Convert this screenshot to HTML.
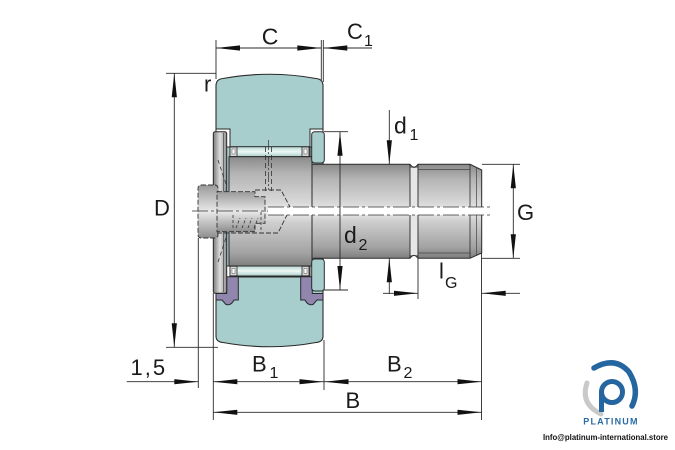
<!DOCTYPE html>
<html><head><meta charset="utf-8"><style>
html,body{margin:0;padding:0;background:#fff;}
svg{display:block;}
text{font-family:"Liberation Sans",Arial,sans-serif;fill:#1a1a1a;}
</style></head><body>
<svg width="675" height="450" viewBox="0 0 675 450" xmlns="http://www.w3.org/2000/svg">
<defs>
<linearGradient id="gv" x1="0" y1="0" x2="0" y2="1">
<stop offset="0" stop-color="#8a8a8a"/><stop offset="0.15" stop-color="#b3b3b3"/><stop offset="0.42" stop-color="#d9d9d9"/><stop offset="0.5" stop-color="#eeeeee"/><stop offset="0.6" stop-color="#cfcfcf"/><stop offset="0.88" stop-color="#a3a3a3"/><stop offset="1" stop-color="#7e7e7e"/>
</linearGradient>
<linearGradient id="gh" x1="0" y1="0" x2="1" y2="0">
<stop offset="0" stop-color="#7c7c7c"/><stop offset="0.5" stop-color="#dedede"/><stop offset="1" stop-color="#8d8d8d"/>
</linearGradient>
<linearGradient id="gn" x1="0" y1="0" x2="0" y2="1">
<stop offset="0" stop-color="#b5d6d3"/><stop offset="0.5" stop-color="#eef8f6"/><stop offset="1" stop-color="#a9cfcb"/>
</linearGradient>
<linearGradient id="gs" x1="0" y1="0" x2="0" y2="1">
<stop offset="0" stop-color="#9a9a9a"/><stop offset="0.5" stop-color="#e9e9e9"/><stop offset="1" stop-color="#8e8e8e"/>
</linearGradient>
</defs>

<!-- outer ring -->
<path d="M216,86 Q216,79 223,78.5 Q270,70 316,78.5 Q323,79 323,86 L323,336 Q323,342 316,342.5 Q270,351 223,342.5 Q216,342 216,336 Z" fill="#a7cecd" stroke="#2a2a2a" stroke-width="1.1"/>
<rect x="216" y="129" width="14" height="18" fill="#fff" stroke="#2a2a2a" stroke-width="1"/>
<rect x="310" y="129" width="13" height="18" fill="#fff" stroke="#2a2a2a" stroke-width="1"/>
<rect x="226" y="266" width="87" height="11" fill="#fff" stroke="#2a2a2a" stroke-width="1"/>
<!-- seals -->
<path d="M226.7,276.7 L238.3,276.7 L238.3,300 L234,300 Q231,306 226,304.5 L222,300 L216,300 L216,293.5 L226.7,293.5 Z" fill="#9186ad" stroke="#2a2a2a" stroke-width="1"/>
<path d="M312.3,276.7 L300.7,276.7 L300.7,300 L305,300 Q308,306 313,304.5 L317,300 L323,300 L323,293.5 L312.3,293.5 Z" fill="#9186ad" stroke="#2a2a2a" stroke-width="1"/>
<!-- needles -->
<rect x="230" y="146.7" width="80" height="10" fill="url(#gn)" stroke="#2a2a2a" stroke-width="1"/>
<rect x="230" y="147" width="7" height="9.5" fill="#d8d8d8" stroke="#2a2a2a" stroke-width="0.8"/>
<rect x="232" y="149" width="3" height="5" fill="#fff" stroke="#555" stroke-width="0.5"/>
<rect x="302" y="147" width="7" height="9.5" fill="#d8d8d8" stroke="#2a2a2a" stroke-width="0.8"/>
<rect x="304" y="149" width="3" height="5" fill="#fff" stroke="#555" stroke-width="0.5"/>
<rect x="230" y="266" width="80" height="10" fill="url(#gn)" stroke="#2a2a2a" stroke-width="1"/>
<rect x="230" y="266.3" width="7" height="9.5" fill="#d8d8d8" stroke="#2a2a2a" stroke-width="0.8"/>
<rect x="232" y="268.3" width="3" height="5" fill="#fff" stroke="#555" stroke-width="0.5"/>
<rect x="302" y="266.3" width="7" height="9.5" fill="#d8d8d8" stroke="#2a2a2a" stroke-width="0.8"/>
<rect x="304" y="268.3" width="3" height="5" fill="#fff" stroke="#555" stroke-width="0.5"/>
<!-- stud body under ring -->
<rect x="229" y="156.7" width="83" height="109.3" fill="url(#gv)" stroke="#2a2a2a" stroke-width="1"/>
<!-- left flange -->
<rect x="213.3" y="131.7" width="13.4" height="161.6" rx="2" fill="url(#gh)" stroke="#2a2a2a" stroke-width="1"/>
<line x1="223.5" y1="133" x2="223.5" y2="292" stroke="#444" stroke-width="0.7"/>
<line x1="218" y1="160" x2="226" y2="184" stroke="#333" stroke-width="0.8" stroke-dasharray="4 3"/>
<line x1="218" y1="262" x2="226" y2="238" stroke="#333" stroke-width="0.8" stroke-dasharray="4 3"/>
<!-- right teal flanges -->
<rect x="311.7" y="131.7" width="12.6" height="31.3" rx="3" fill="#a7cecd" stroke="#2a2a2a" stroke-width="1"/>
<rect x="311.7" y="259" width="12.6" height="32" rx="3" fill="#a7cecd" stroke="#2a2a2a" stroke-width="1"/>
<!-- shaft -->
<path d="M312,164.3 L410,164.3 Q414,170 418,164.3 L470,164.3 L481.7,170 L481.7,253 L470,258.3 L418,258.3 Q414,252.6 410,258.3 L312,258.3 Z" fill="url(#gv)" stroke="#2a2a2a" stroke-width="1"/>
<rect x="410.5" y="168" width="7" height="87" fill="#e6e6e6"/>
<line x1="410" y1="164.3" x2="410" y2="258.3" stroke="#2a2a2a" stroke-width="0.9"/>
<line x1="418" y1="164.3" x2="418" y2="258.3" stroke="#2a2a2a" stroke-width="0.9"/>
<line x1="470" y1="164.3" x2="470" y2="258.3" stroke="#2a2a2a" stroke-width="0.8"/>
<line x1="476.5" y1="167" x2="476.5" y2="256" stroke="#444" stroke-width="0.7"/>
<line x1="418" y1="169.5" x2="470" y2="169.5" stroke="#444" stroke-width="0.7"/>
<line x1="418" y1="253" x2="470" y2="253" stroke="#444" stroke-width="0.7"/>
<!-- head piece (dashed) -->
<rect x="198" y="185" width="20" height="53" rx="3" fill="url(#gs)" stroke="#333" stroke-width="0.9" stroke-dasharray="5 2"/>
<path d="M217,191.7 L255,191.7 L255,196.7 L265,196.7 L265,223.3 L255,223.3 L255,231.7 L217,231.7 Z" fill="url(#gs)" stroke="#333" stroke-width="0.9" stroke-dasharray="5 2"/>
<path d="M255,190 L281,190 L290,207 M217,233 L278,233 L287,215" fill="none" stroke="#333" stroke-width="0.9" stroke-dasharray="5 2"/>
<line x1="233" y1="215" x2="233" y2="230" stroke="#333" stroke-width="0.8" stroke-dasharray="3 2"/>
<path d="M236,228 L240,218 M242,228 L246,218 M248,228 L252,218 M254,228 L258,218" stroke="#333" stroke-width="0.8" fill="none" stroke-dasharray="3 2"/>
<line x1="261" y1="212" x2="261" y2="230" stroke="#333" stroke-width="0.8" stroke-dasharray="3 2"/>
<!-- radial hole -->
<line x1="265.5" y1="147" x2="265.5" y2="191" stroke="#333" stroke-width="0.8" stroke-dasharray="5 3"/>
<line x1="271.5" y1="147" x2="271.5" y2="191" stroke="#333" stroke-width="0.8" stroke-dasharray="5 3"/>
<line x1="268.5" y1="140" x2="268.5" y2="190" stroke="#333" stroke-width="0.7" stroke-dasharray="10 2 2 2"/>
<!-- axial strip / centerline -->
<rect x="268" y="207" width="222" height="8" fill="#fff"/>
<line x1="268" y1="207" x2="490" y2="207" stroke="#333" stroke-width="0.8" stroke-dasharray="16 3 3 3"/>
<line x1="268" y1="215" x2="490" y2="215" stroke="#333" stroke-width="0.8" stroke-dasharray="16 3 3 3"/>
<line x1="192" y1="211" x2="268" y2="211" stroke="#333" stroke-width="0.8" stroke-dasharray="16 3 3 3"/>

<!-- extension lines -->
<g stroke="#2a2a2a" stroke-width="0.9" fill="none">
<line x1="216" y1="40" x2="216" y2="79"/>
<line x1="321.3" y1="40" x2="321.3" y2="80"/>
<line x1="323.3" y1="40" x2="323.3" y2="82"/>
<line x1="166" y1="73.3" x2="216" y2="73.3"/>
<line x1="166" y1="347.3" x2="218" y2="347.3"/>
<line x1="198.3" y1="238" x2="198.3" y2="388"/>
<line x1="213.3" y1="293" x2="213.3" y2="420"/>
<line x1="324" y1="340" x2="324" y2="390"/>
<line x1="481.5" y1="253" x2="481.5" y2="420"/>
<line x1="418" y1="258" x2="418" y2="299"/>
<line x1="324" y1="131.7" x2="348" y2="131.7"/>
<line x1="324" y1="290" x2="348" y2="290"/>
<line x1="482" y1="164.3" x2="520" y2="164.3"/>
<line x1="482" y1="258.3" x2="520" y2="258.3"/>
<line x1="216" y1="48" x2="321.3" y2="48"/>
<line x1="323.3" y1="48" x2="372" y2="48"/>
<line x1="174.3" y1="73.3" x2="174.3" y2="347.3"/>
<line x1="389.3" y1="110" x2="389.3" y2="164.3"/>
<line x1="389.3" y1="258.3" x2="389.3" y2="294"/>
<line x1="340" y1="131.7" x2="340" y2="290"/>
<line x1="513.3" y1="164.3" x2="513.3" y2="258.3"/>
<line x1="383" y1="293.3" x2="418" y2="293.3"/>
<line x1="481.7" y1="293.3" x2="520" y2="293.3"/>
<line x1="126.7" y1="381.7" x2="198.3" y2="381.7"/>
<line x1="213.3" y1="381.7" x2="481.5" y2="381.7"/>
<line x1="213.3" y1="412.3" x2="481.5" y2="412.3"/>
</g>
<!-- arrowheads -->
<g fill="#111">
<polygon points="216,48 240,45.4 240,50.6"/>
<polygon points="321.3,48 297.3,45.4 297.3,50.6"/>
<polygon points="323.3,48 347.3,45.4 347.3,50.6"/>
<polygon points="174.3,73.3 171.7,97.3 176.9,97.3"/>
<polygon points="174.3,347.3 171.7,323.3 176.9,323.3"/>
<polygon points="389.3,164.3 386.7,140.3 391.9,140.3"/>
<polygon points="389.3,258.3 386.7,282.3 391.9,282.3"/>
<polygon points="340,131.7 337.4,155.7 342.6,155.7"/>
<polygon points="340,290 337.4,266 342.6,266"/>
<polygon points="513.3,164.3 510.7,188.3 515.9,188.3"/>
<polygon points="513.3,258.3 510.7,234.3 515.9,234.3"/>
<polygon points="418,293.3 394,290.7 394,295.9"/>
<polygon points="481.7,293.3 505.7,290.7 505.7,295.9"/>
<polygon points="198.3,381.7 174.3,379.1 174.3,384.3"/>
<polygon points="213.3,381.7 237.3,379.1 237.3,384.3"/>
<polygon points="323.5,381.7 299.5,379.1 299.5,384.3"/>
<polygon points="324.5,381.7 348.5,379.1 348.5,384.3"/>
<polygon points="481.5,381.7 457.5,379.1 457.5,384.3"/>
<polygon points="213.3,412.3 237.3,409.7 237.3,414.9"/>
<polygon points="481.5,412.3 457.5,409.7 457.5,414.9"/>
</g>

<!-- labels -->
<text x="270" y="44.5" font-size="23" text-anchor="middle">C</text>
<text x="347" y="39" font-size="22">C</text>
<text x="364" y="46" font-size="16">1</text>
<text x="204" y="91.7" font-size="22">r</text>
<text x="154" y="215.5" font-size="22">D</text>
<text x="394" y="133.3" font-size="23">d</text>
<text x="409.5" y="140" font-size="16">1</text>
<text x="344" y="243" font-size="23">d</text>
<text x="358.5" y="250" font-size="16">2</text>
<text x="517" y="220" font-size="22">G</text>
<text x="439" y="278.3" font-size="22">l</text>
<text x="445" y="288" font-size="16">G</text>
<text x="130.5" y="375" font-size="22" letter-spacing="2">1,5</text>
<text x="252" y="371.7" font-size="22">B</text>
<text x="269.5" y="378" font-size="16">1</text>
<text x="387" y="371.7" font-size="22">B</text>
<text x="403.5" y="378" font-size="16">2</text>
<text x="345.5" y="408" font-size="22">B</text>

<!-- logo -->
<path d="M587,383 Q580,404 601,414" fill="none" stroke="#c9c9c9" stroke-width="5" stroke-linecap="round"/>
<path d="M594,368 Q615,356 629,372 Q640,390 632,406" fill="none" stroke="#2565a0" stroke-width="5.5" stroke-linecap="round"/>
<circle cx="612" cy="392" r="10.5" fill="none" stroke="#2565a0" stroke-width="5"/>
<rect x="599" y="391" width="5" height="21" fill="#2565a0"/>
<text x="611" y="424.5" font-size="9" font-weight="bold" text-anchor="middle" letter-spacing="1.2" style="fill:#2a6aa6">PLATINUM</text>
<text x="543" y="440" font-size="8" font-weight="bold" textLength="125" lengthAdjust="spacingAndGlyphs" style="fill:#111">Info@platinum-international.store</text>
</svg>
</body></html>
